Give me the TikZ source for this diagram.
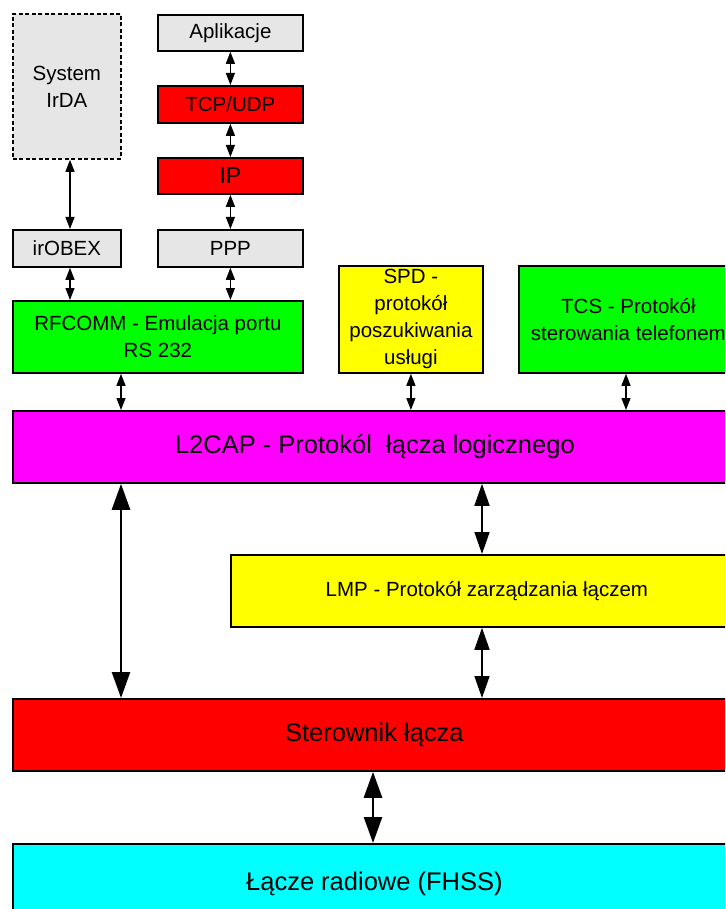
\documentclass[tikz,border=0pt]{standalone}
\usepackage{fontspec}
\setmainfont{Liberation Sans}
\usetikzlibrary{arrows.meta, positioning}
\definecolor{ink}    {HTML}{000000}
\definecolor{grey}   {HTML}{E6E6E6}
\definecolor{lred}   {HTML}{FF0000}
\definecolor{lgreen} {HTML}{00FF00}
\definecolor{lyellow}{HTML}{FFFF00}
\definecolor{lpink}  {HTML}{FF00FF}
\definecolor{lcyan}  {HTML}{00FFFF}
\tikzset{
  box/.style   = {draw=ink, line width=1.8pt, fill=grey, inner sep=0pt,
                  anchor=north west, align=center,
                  font=\fontsize{20.5}{27}\selectfont},
  big/.style   = {box, font=\fontsize{25.5}{30}\selectfont},
  sarr/.style  = {{Triangle[length=12pt,width=9pt]}-{Triangle[length=12pt,width=9pt]},
                  line width=1.2pt, ink},
  marr/.style  = {{Triangle[length=22pt,width=15pt]}-{Triangle[length=22pt,width=15pt]},
                  line width=1.6pt, ink},
  barr/.style  = {{Triangle[length=26pt,width=18pt]}-{Triangle[length=26pt,width=18pt]},
                  line width=2.6pt, ink},
}

\begin{document}
\begin{tikzpicture}[x=1pt, y=-1pt]
  \clip (0,0) rectangle (725,909);
  \fill[white] (0,0) rectangle (725,909);

  % upper stack
  \node[box, dash pattern=on 4pt off 2.5pt, minimum width=108pt, minimum height=145pt]
    (irda) at (12,13) {System\\IrDA};
  \node[box, minimum width=145pt, minimum height=36pt] (app) at (157,14) {Aplikacje};
  \node[box, fill=lred, minimum width=145pt, minimum height=37pt] (tcp) at (157,85) {TCP/UDP};
  \node[box, fill=lred, minimum width=145pt, minimum height=36pt,
        font=\fontsize{23}{27}\selectfont] (ip) at (157,157) {IP};
  \node[box, minimum width=108pt, minimum height=37pt] (irobex) at (12,229) {irOBEX};
  \node[box, minimum width=145pt, minimum height=37pt] (ppp) at (157,229) {PPP};

  % protocols over L2CAP
  \node[box, fill=lgreen, minimum width=290pt, minimum height=72pt] (rfcomm) at (12,300)
    {RFCOMM - Emulacja portu\\RS 232};
  \node[box, fill=lyellow, minimum width=144pt, minimum height=107pt] (spd) at (338,265)
    {SPD -\\protokół\\poszukiwania\\usługi};
  \node[box, fill=lgreen, minimum width=219pt, minimum height=107pt] (tcs) at (518,265)
    {TCS - Protokół\\sterowania telefonem};

  % lower layers
  \node[big, fill=lpink, minimum width=724pt, minimum height=72pt] (l2cap) at (12,410)
    {L2CAP - Protokól~ łącza logicznego};
  \node[box, fill=lyellow, minimum width=512pt, minimum height=72pt] (lmp) at (230,554)
    {LMP - Protokół zarządzania łączem};
  \node[big, fill=lred, minimum width=723pt, minimum height=72pt] (ster) at (12,698)
    {Sterownik łącza};
  \node[big, fill=lcyan, minimum width=723pt, minimum height=80pt] (radio) at (12,843)
    {Łącze radiowe (FHSS)};

  % arrow columns
  \coordinate (cir) at (70,0);
  \coordinate (crf) at (121,0);
  \coordinate (ctc) at (626,0);
  \coordinate (clm) at (482,0);
  \coordinate (cst) at (373,0);

  \draw[sarr] (irda.south -| cir) -- (irobex.north -| cir);
  \draw[sarr] (irobex.south -| cir) -- (rfcomm.north -| cir);
  \draw[sarr] (app) -- (tcp);
  \draw[sarr] (tcp) -- (ip);
  \draw[sarr] (ip) -- (ppp);
  \draw[sarr] (ppp) -- (ppp.south |- rfcomm.north);
  \draw[sarr] (rfcomm.south -| crf) -- (l2cap.north -| crf);
  \draw[sarr] (spd) -- (spd.south |- l2cap.north);
  \draw[sarr] (tcs.south -| ctc) -- (l2cap.north -| ctc);
  \draw[barr] (l2cap.south -| crf) -- (ster.north -| crf);
  \draw[marr] (l2cap.south -| clm) -- (lmp.north -| clm);
  \draw[marr] (lmp.south -| clm) -- (ster.north -| clm);
  \draw[barr] (ster.south -| cst) -- (radio.north -| cst);
\end{tikzpicture}
\end{document}
